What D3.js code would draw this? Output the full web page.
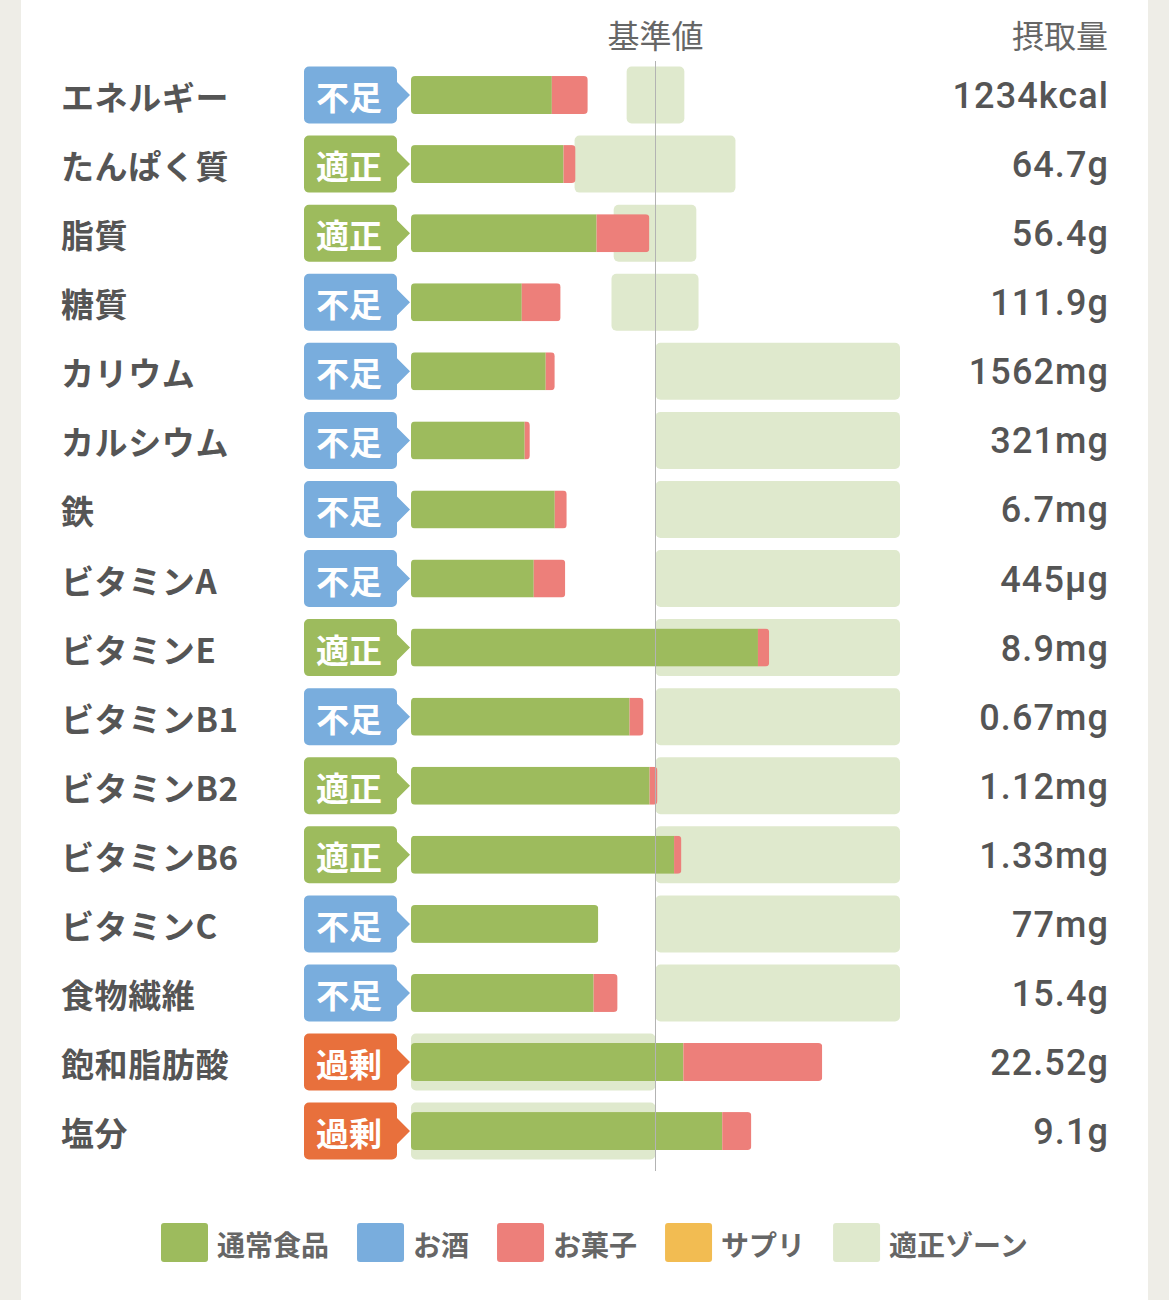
<!DOCTYPE html>
<html>
<head>
<meta charset="utf-8">
<script src="https://cdn.jsdelivr.net/npm/d3@7"></script>
<style>
  html, body { margin: 0; padding: 0; background: #eeede7; }
  svg { display: block; }
</style>
</head>
<body>
<svg id="chart"></svg>
<script>
// data (percent of the standard value)
var nutrients = ["エネルギー", "たんぱく質", "脂質", "糖質", "カリウム", "カルシウム", "鉄",
  "ビタミンA", "ビタミンE", "ビタミンB1", "ビタミンB2", "ビタミンB6", "ビタミンC",
  "食物繊維", "飽和脂肪酸", "塩分"];
var judgements = ["不足", "適正", "適正", "不足", "不足", "不足", "不足", "不足", "適正", "不足",
  "適正", "適正", "不足", "不足", "過剰", "過剰"];
var foodPct = [57.6, 62.4, 75.9, 45.3, 55.1, 46.5, 58.8, 50.2, 141.9, 89.4, 97.6, 107.6, 76.6, 74.7, 111.4, 127.3];
var alcoholPct = [0, 0, 0, 0, 0, 0, 0, 0, 0, 0, 0, 0, 0, 0, 0, 0];
var snackPct = [14.7, 4.9, 21.6, 15.9, 3.7, 2.1, 4.9, 12.9, 4.6, 5.7, 3.2, 3.0, 0, 9.8, 56.8, 11.9];
var supplePct = [0, 0, 0, 0, 0, 0, 0, 0, 0, 0, 0, 0, 0, 0, 0, 0];
var zoneLow = [88.2, 66.9, 82.9, 82.0, 100, 100, 100, 100, 100, 100, 100, 100, 100, 100, 0, 0];
var zoneHigh = [111.8, 132.7, 116.7, 117.6, 200, 200, 200, 200, 200, 200, 200, 200, 200, 200, 100, 100];
var intake = ["1234kcal", "64.7g", "56.4g", "111.9g", "1562mg", "321mg", "6.7mg", "445µg",
  "8.9mg", "0.67mg", "1.12mg", "1.33mg", "77mg", "15.4g", "22.52g", "9.1g"];
var seriesKeys = ["通常食品", "お酒", "お菓子", "サプリ"];
var legendLabels = ["通常食品", "お酒", "お菓子", "サプリ", "適正ゾーン"];

// settings
var width = 1169, height = 1300;
var cardLeft = 21, cardRight = 1148;
var barH = 38, zoneH = 57;
var colors = {"通常食品": "#9dbb5d", "お酒": "#79addd", "お菓子": "#ed7f7a", "サプリ": "#f2bc52", "適正ゾーン": "#dfe9cd"};
var badgeColors = {"不足": "#79addd", "適正": "#9dbb5d", "過剰": "#e8703c"};
var textColor = "#555555";
var jp = "'Noto Sans CJK JP', 'Noto Sans', sans-serif";

var rows = nutrients.map(function(n, i) {
  return {name: n, judge: judgements[i], "通常食品": foodPct[i], "お酒": alcoholPct[i],
    "お菓子": snackPct[i], "サプリ": supplePct[i], low: zoneLow[i], high: zoneHigh[i], intake: intake[i]};
});

var x = d3.scaleLinear().domain([0, 200]).range([411, 900]);
var y = d3.scaleBand().domain(nutrients).range([60.5, 60.5 + 69.07 * nutrients.length]);
function cy(n) { return y(n) + y.bandwidth() / 2; }

var svg = d3.select("#chart").attr("width", width).attr("height", height);

svg.append("rect")
  .attr("x", cardLeft).attr("y", 0)
  .attr("width", cardRight - cardLeft).attr("height", height)
  .attr("fill", "#ffffff");

// headers
svg.append("text")
  .attr("x", x(100)).attr("y", 34)
  .attr("text-anchor", "middle").attr("dominant-baseline", "central")
  .attr("font-family", jp).attr("font-size", 32).attr("fill", "#666")
  .text("基準値");
svg.append("text")
  .attr("x", 1108).attr("y", 34)
  .attr("text-anchor", "end").attr("dominant-baseline", "central")
  .attr("font-family", jp).attr("font-size", 32).attr("fill", "#666")
  .text("摂取量");

// proper zones
svg.append("g").selectAll("rect")
  .data(rows)
  .enter().append("rect")
  .attr("x", function(d) { return x(d.low); })
  .attr("y", function(d) { return cy(d.name) - zoneH / 2; })
  .attr("width", function(d) { return x(d.high) - x(d.low); })
  .attr("height", zoneH)
  .attr("rx", 5)
  .attr("fill", colors["適正ゾーン"]);

// stacked bars, clipped to a rounded bar per row
var defs = svg.append("defs");
defs.selectAll("clipPath")
  .data(rows)
  .enter().append("clipPath")
  .attr("id", function(d, i) { return "clip" + i; })
  .append("rect")
  .attr("x", x(0))
  .attr("y", function(d) { return cy(d.name) - barH / 2; })
  .attr("width", function(d) {
    var total = d3.sum(seriesKeys, function(k) { return d[k]; });
    return x(total) - x(0);
  })
  .attr("height", barH)
  .attr("rx", 4);

var stacked = d3.stack().keys(seriesKeys)(rows);

var rowG = svg.append("g").selectAll("g")
  .data(rows)
  .enter().append("g")
  .attr("clip-path", function(d, i) { return "url(#clip" + i + ")"; });

rowG.selectAll("rect")
  .data(function(d, i) {
    return stacked.map(function(s) { return {key: s.key, v0: s[i][0], v1: s[i][1], name: d.name}; });
  })
  .enter().append("rect")
  .attr("x", function(d) { return x(d.v0); })
  .attr("y", function(d) { return cy(d.name) - barH / 2; })
  .attr("width", function(d) { return x(d.v1) - x(d.v0); })
  .attr("height", barH)
  .attr("fill", function(d) { return colors[d.key]; });

// standard value line
svg.append("line")
  .attr("x1", x(100)).attr("x2", x(100))
  .attr("y1", 61).attr("y2", 1171)
  .attr("stroke", "#b3b3b3").attr("stroke-width", 1);

// judgement badges
function badgePath(top) {
  var l = 304, r = 397, tip = 410, h = zoneH, rad = 5, mid = top + h / 2;
  var p = d3.path();
  p.moveTo(l + rad, top);
  p.lineTo(r - rad, top);
  p.arcTo(r, top, r, top + rad, rad);
  p.lineTo(r, mid - 13);
  p.lineTo(tip, mid);
  p.lineTo(r, mid + 13);
  p.lineTo(r, top + h - rad);
  p.arcTo(r, top + h, r - rad, top + h, rad);
  p.lineTo(l + rad, top + h);
  p.arcTo(l, top + h, l, top + h - rad, rad);
  p.lineTo(l, top + rad);
  p.arcTo(l, top, l + rad, top, rad);
  p.closePath();
  return p.toString();
}

var badge = svg.append("g").selectAll("g")
  .data(rows)
  .enter().append("g");
badge.append("path")
  .attr("d", function(d) { return badgePath(cy(d.name) - zoneH / 2); })
  .attr("fill", function(d) { return badgeColors[d.judge]; });
badge.append("text")
  .attr("x", 349).attr("y", function(d) { return cy(d.name) + 1; })
  .attr("text-anchor", "middle").attr("dominant-baseline", "central")
  .attr("font-family", jp).attr("font-weight", "bold").attr("font-size", 33)
  .attr("fill", "#ffffff")
  .text(function(d) { return d.judge; });

// nutrient labels
svg.append("g").selectAll("text")
  .data(rows)
  .enter().append("text")
  .attr("x", 61).attr("y", function(d) { return cy(d.name) + 1; })
  .attr("dominant-baseline", "central")
  .attr("font-family", jp).attr("font-weight", "bold").attr("font-size", 33)
  .attr("letter-spacing", 0.6)
  .attr("fill", textColor)
  .text(function(d) { return d.name; });

// intake values
svg.append("g").selectAll("text")
  .data(rows)
  .enter().append("text")
  .attr("x", 1109).attr("y", function(d) { return cy(d.name) + 13; })
  .attr("text-anchor", "end")
  .attr("font-family", "Roboto, 'Noto Sans', sans-serif").attr("font-weight", 500).attr("font-size", 36)
  .attr("letter-spacing", 1.1)
  .attr("fill", textColor)
  .text(function(d) { return d.intake; });

// legend
var legend = svg.append("g");
var lx = 161;
legendLabels.forEach(function(k) {
  legend.append("rect")
    .attr("x", lx).attr("y", 1223)
    .attr("width", 47).attr("height", 39).attr("rx", 3)
    .attr("fill", colors[k]);
  var t = legend.append("text")
    .attr("x", lx + 56).attr("y", 1244)
    .attr("dominant-baseline", "central")
    .attr("font-family", jp).attr("font-weight", "bold").attr("font-size", 28)
    .attr("fill", "#666")
    .text(k);
  lx = lx + 56 + t.node().getComputedTextLength() + 28;
});
</script>
</body>
</html>
